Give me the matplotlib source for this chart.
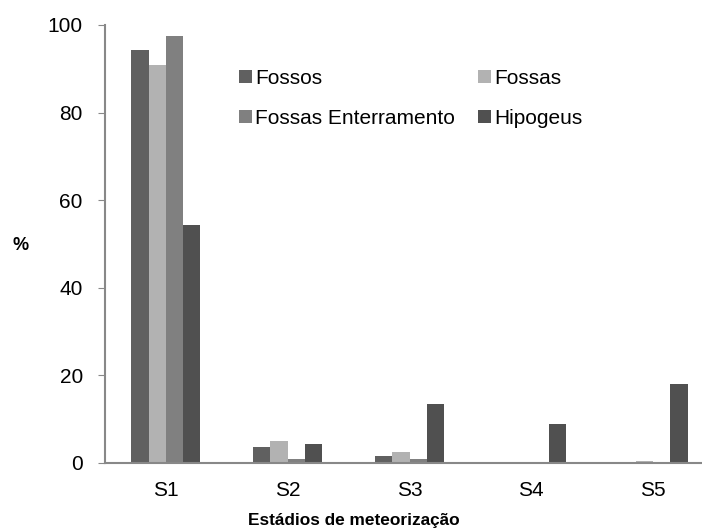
import matplotlib
matplotlib.use("Agg")
import matplotlib.pyplot as plt
import numpy as np

plt.rcParams['font.family'] = ['Liberation Sans', 'DejaVu Sans']

categories = ["S1", "S2", "S3", "S4", "S5"]
series_names = ["Fossos", "Fossas", "Fossas Enterramento", "Hipogeus"]
fossos = [94.3, 3.7, 1.6, 0.0, 0.0]
fossas = [90.9, 5.1, 2.6, 0.1, 0.4]
fossas_enterramento = [97.6, 0.9, 0.9, 0.1, 0.0]
hipogeus = [54.3, 4.3, 13.5, 8.9, 18.0]
colors = ["#606060", "#b2b2b2", "#808080", "#505050"]
yticks = [0, 20, 40, 60, 80, 100]

W, H = 702, 532
fig = plt.figure(figsize=(W / 100, H / 100), dpi=100)
ax = fig.add_axes([105 / W, 1 - 463 / H, 609 / W, 438 / H])

x = np.arange(len(categories))
bw = 0.1416
data = [fossos, fossas, fossas_enterramento, hipogeus]
bars = []
for i, (vals, name, c) in enumerate(zip(data, series_names, colors)):
    b = ax.bar(x + (i - 1.5) * bw, vals, width=bw, color=c, label=name, linewidth=0)
    bars.append(b)

ax.set_xlim(-0.5, 4.5)
ax.set_ylim(0, 100)
ax.set_yticks(yticks)
ax.set_xticks(x)
ax.set_xticklabels(categories)
ax.tick_params(axis='y', direction='out', length=5, color='#888888', labelsize=15, pad=11)
ax.tick_params(axis='x', length=0, labelsize=15, pad=13)
for s in ['top', 'right']:
    ax.spines[s].set_visible(False)
for s in ['left', 'bottom']:
    ax.spines[s].set_color('#888888')
    ax.spines[s].set_linewidth(1.5)

fig.text(21 / W, 1 - 246 / H, "%", fontsize=13, fontweight='bold', ha='center', va='center')
fig.text(354 / W, 1 - 521 / H, "Estádios de meteorização", fontsize=12.4,
         fontweight='bold', ha='center', va='center')

order = [0, 2, 1, 3]
leg = ax.legend([bars[i] for i in order], [series_names[i] for i in order],
                ncol=2, loc='upper left', bbox_to_anchor=(239 / W, 1 - 69 / H),
                bbox_transform=fig.transFigure, frameon=False, fontsize=15,
                handlelength=0.62, handleheight=0.58, handletextpad=0.15,
                columnspacing=1.1, labelspacing=0.99, borderpad=0, borderaxespad=0)

fig.savefig("out.png", dpi=100)
